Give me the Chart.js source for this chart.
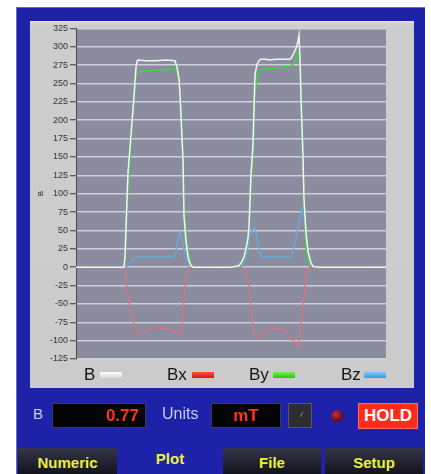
<!DOCTYPE html>
<html>
<head>
<meta charset="utf-8">
<script src="https://cdn.jsdelivr.net/npm/chart.js@4.4.1/dist/chart.umd.min.js"></script>
<style>
body { margin: 0; width: 431px; height: 474px; background: #fff; overflow: hidden; position: relative; font-family: "Liberation Sans", Arial, sans-serif; }
.abs { position: absolute; }
#frame { left: 16px; top: 7px; width: 409px; height: 467px; background: #1e22a8; box-shadow: inset 1px 1px 0 #6a6ac8; }
#panel { left: 30px; top: 21px; width: 384px; height: 367px; background: linear-gradient(#e2e2e2 0px, #cdcdcd 4px, #cbcbcb 100%); }
#plotwrap { left: 30px; top: 21px; width: 385px; height: 350px; }
.lg { top: 365px; font-size: 17px; color: #151515; line-height: 20px; }
.sw { top: 372px; width: 22px; height: 6px; }
.lbl { color: #c4cbf4; font-size: 15px; top: 404px; line-height: 20px; }
.box { background: #050505; border: 1px solid #3a3a5a; top: 403px; height: 23px; color: #ff3418; font-weight: bold; font-size: 17px; line-height: 23px; }
.tab { top: 448px; height: 26px; background: linear-gradient(#34344a, #14141e); color: #eef03a; font-weight: bold; font-size: 15px; text-align: center; line-height: 30px; }
</style>
</head>
<body>
<div id="frame" class="abs"></div>
<div id="panel" class="abs"></div>
<div id="plotwrap" class="abs"><canvas id="plot"></canvas></div>

<div class="abs lg" style="left:84px;">B</div>
<div class="abs sw" style="left:100px; background: linear-gradient(#ffffff, #d8d8d8);"></div>
<div class="abs lg" style="left:167px;">Bx</div>
<div class="abs sw" style="left:192px; background: linear-gradient(#ff5040, #e01010);"></div>
<div class="abs lg" style="left:249px;">By</div>
<div class="abs sw" style="left:273px; background: linear-gradient(#70f050, #30c010);"></div>
<div class="abs lg" style="left:341px;">Bz</div>
<div class="abs sw" style="left:364px; background: linear-gradient(#80c8ff, #3a98e0);"></div>

<div class="abs lbl" style="left:33px;">B</div>
<div class="abs box" style="left:52px; width:86px; padding-right:6px; text-align:right;">0.77</div>
<div class="abs lbl" style="left:162px; font-size:16px;">Units</div>
<div class="abs box" style="left:211px; width:68px; text-align:center;">mT</div>
<div class="abs" style="left:288px; top:403px; width:22px; height:23px; background:#2e2e32; border:1px solid #55556a;"><div style="position:absolute; left:12px; top:8px; width:1px; height:5px; background:#888; transform:rotate(30deg);"></div></div>
<div class="abs" style="left:331px; top:410px; width:12px; height:12px; border-radius:50%; background: radial-gradient(circle at 40% 35%, #c03040, #6a0818 70%);"></div>
<div class="abs" style="left:358px; top:403px; width:58px; height:24px; background:#ff2c1c; border:1px solid #ff7060; color:#fff; font-weight:bold; font-size:17px; line-height:24px; text-align:center;">HOLD</div>

<div class="abs tab" style="left:18px; width:99px;">Numeric</div>
<div class="abs" style="left:118px; top:448px; width:104px; text-align:center; color:#eef03a; font-weight:bold; font-size:15px; line-height:22px;">Plot</div>
<div class="abs tab" style="left:223px; width:98px;">File</div>
<div class="abs tab" style="left:325px; width:98px;">Setup</div>

<script>
// sample times (one unit per pixel of the plot width)
var times = [0, 10, 20, 30, 40, 46, 48, 49, 51, 52, 53, 55, 57, 58, 60, 61, 62, 70, 80, 90,
    99, 101, 103, 104, 105, 107, 108, 110, 112, 113, 115, 117, 125, 135, 145, 155,
    163, 166, 168, 170, 172, 173, 175, 177, 178, 179, 181, 183, 185, 190, 193, 200,
    207, 213, 215, 217, 220, 222, 223, 224, 225, 227, 228, 230, 232, 233, 235, 237,
    245, 255, 265, 275, 285, 295, 305, 310];

var bTotal = [0, 0, 0, 0, 0, 0, 0, 14, 92, 129, 145, 180, 215, 232, 272, 280, 282, 281, 281, 282,
    281, 272, 257, 235, 205, 147, 70, 35, 15, 9, 2, 0, 0, 0, 0, 0,
    2, 8, 14, 25, 40, 55, 126, 167, 215, 262, 276, 281, 283, 283, 282, 283,
    283, 283, 284, 289, 298, 308, 316, 285, 230, 150, 92, 47, 22, 16, 6, 1,
    0, 0, 0, 0, 0, 0, 0, 0];

var bx = [0, 0, 0, 0, 0, 0, 0, -5, -25, -40, -48, -62, -72, -78, -89, -90, -89, -86, -82, -84,
    -88, -90, -91, -90, -89, -60, -45, -15, -2, 0, 0, 0, 0, 0, 0, 0,
    0, 0, -5, -10, -15, -25, -55, -78, -90, -92, -94, -95, -92, -87, -84, -84,
    -84, -93, -96, -100, -105, -108, -100, -90, -75, -59, -40, -8, -2, 0, 0, 0,
    0, 0, 0, 0, 0, 0, 0, 0];

var by = [0, 0, 1, 0, 1, 0, 0, 8, 80, 110, 130, 165, 215, 239, 260, 265, 266, 267, 268, 269,
    270, 265, 255, 240, 215, 150, 85, 45, 22, 15, 5, 0, 0, 1, 0, 0,
    1, 6, 12, 22, 38, 50, 115, 160, 200, 236, 258, 266, 269, 270, 270, 271,
    272, 273, 274, 276, 283, 294, 292, 280, 240, 160, 90, 30, 8, 4, 0, 0,
    1, 0, 1, 0, 1, 0, 0, 0];

var bz = [0, 0, 0, 0, 0, 0, 0, 0, 0, 2, 4, 7, 10, 11, 13, 14, 14, 14, 14, 14,
    15, 30, 44, 48, 42, 30, 25, 16, 8, 5, 1, 0, 0, 0, 0, 0,
    0, 2, 6, 12, 28, 37, 45, 52, 54, 55, 38, 24, 14, 14, 14, 14,
    14, 14, 14, 22, 40, 55, 62, 68, 72, 80, 68, 40, 20, 12, 2, 0,
    0, 0, 0, 0, 0, 0, 0, 0];

var yTicks = [325, 300, 275, 250, 225, 200, 175, 150, 125, 100, 75, 50, 25, 0, -25, -50, -75, -100, -125];

function pts(vals) {
    return times.map(function (t, i) { return { x: t, y: vals[i] }; });
}

var plotBg = {
    id: 'plotBg',
    beforeDraw: function (chart) {
        var a = chart.chartArea, c = chart.ctx;
        c.save();
        c.fillStyle = '#8b8c9f';
        c.fillRect(a.left, a.top, a.right - a.left, a.bottom - a.top);
        c.restore();
    }
};

var ctx = document.getElementById('plot');
var myChart = new Chart(ctx, {
    type: 'line',
    data: {
        datasets: [
            { label: 'B', data: pts(bTotal), borderColor: '#f4f4f4', borderWidth: 1.5 },
            { label: 'Bx', data: pts(bx), borderColor: '#e0707e', borderWidth: 1.3 },
            { label: 'By', data: pts(by), borderColor: '#3ed43a', borderWidth: 1.5 },
            { label: 'Bz', data: pts(bz), borderColor: '#62aee0', borderWidth: 1.3 }
        ]
    },
    options: {
        responsive: true,
        maintainAspectRatio: false,
        animation: false,
        events: [],
        elements: { point: { radius: 0 }, line: { tension: 0 } },
        layout: { padding: { top: 7, right: 29, bottom: 12, left: 0 } },
        plugins: { legend: { display: false }, tooltip: { enabled: false } },
        scales: {
            x: { type: 'linear', min: 0, max: 310, display: false },
            y: {
                min: -125,
                max: 325,
                afterBuildTicks: function (scale) {
                    scale.ticks = yTicks.map(function (v) { return { value: v }; });
                },
                afterFit: function (scale) { scale.width = 46; },
                title: { display: true, text: 'B', color: '#222', font: { size: 8, family: 'Liberation Sans' }, padding: { top: 6, bottom: 2 } },
                ticks: { color: '#333', font: { size: 9, family: 'Liberation Sans' }, padding: 2 },
                grid: { color: 'rgba(218,218,226,0.85)', lineWidth: 1.5, tickColor: '#3a3a3a', tickLength: 6, tickWidth: 1 },
                border: { display: true, color: '#4a4a55', width: 1 }
            }
        }
    },
    plugins: [plotBg]
});
</script>
</body>
</html>
